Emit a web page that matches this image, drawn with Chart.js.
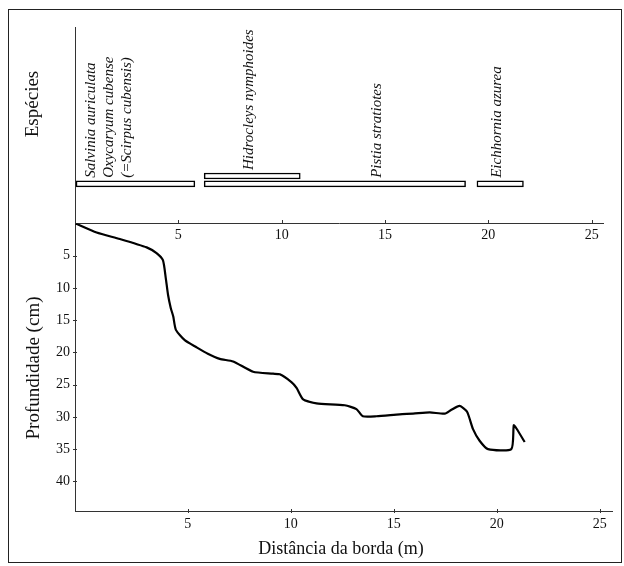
<!DOCTYPE html>
<html>
<head>
<meta charset="utf-8">
<script src="https://cdn.jsdelivr.net/npm/chart.js@4.4.0/dist/chart.umd.min.js"></script>
<style>
  html, body { margin: 0; padding: 0; background: #fff; }
  #wrap { position: relative; width: 624px; height: 566px; overflow: hidden; }
  #frame { position: absolute; left: 8px; top: 9px; width: 612px; height: 552px; border: 1.5px solid #222; }
  canvas { position: absolute; left: 0; top: 0; }
</style>
</head>
<body>
<div id="wrap">
  <div id="frame"></div>
  <canvas id="species" width="624" height="566"></canvas>
  <canvas id="profile" width="624" height="566"></canvas>
</div>
<script>
// species bands along the transect (m)
const speciesNames = [
  ['Salvinia auriculata', 'Oxycaryum cubense', '(=Scirpus cubensis)'],
  ['Hidrocleys nymphoides'],
  ['Pistia stratiotes'],
  ['Eichhornia azurea']
];
const speciesFrom = [0.05, 6.25, 6.25, 19.45];
const speciesTo = [5.8, 10.9, 18.9, 21.7];
const speciesRow = [0, 1, 0, 0];

// depth profile
const distance = [-0.45, 0.57, 1.7, 3.0, 3.48, 3.79, 3.93, 4.04, 4.17, 4.29, 4.42, 4.85, 5.42, 5.97,
  6.55, 7.2, 8.17, 9.14, 9.47, 10.03, 10.28, 10.6, 11.25, 12.62, 13.19, 13.5, 14.16, 15.29,
  15.94, 16.75, 17.48, 17.8, 18.2, 18.56, 18.85, 19.17, 19.58, 20.71, 20.83, 20.96, 21.36];
const depth = [0, 1.4, 2.4, 3.7, 4.6, 5.7, 8.5, 11.1, 13.1, 14.4, 16.5, 18.1, 19.2, 20.2,
  21.0, 21.4, 23.0, 23.3, 23.4, 24.6, 25.5, 27.3, 27.9, 28.2, 28.8, 29.9, 29.9, 29.6,
  29.5, 29.3, 29.5, 28.9, 28.3, 29.2, 31.9, 33.7, 35.0, 35.0, 31.3, 31.8, 33.9];

const distanceTicks = [5, 10, 15, 20, 25];
const depthTicks = [5, 10, 15, 20, 25, 30, 35, 40];

const serif = '"Liberation Serif", "DejaVu Serif", serif';
const ink = '#111';
const rowY = r => 2 + 0.4 * r;

const crossTicks = {
  id: 'crossTicks',
  afterDraw(chart, args, opts) {
    const ctx = chart.ctx;
    const area = chart.chartArea;
    ctx.save();
    ctx.strokeStyle = '#333';
    ctx.lineWidth = 1;
    opts.axes.forEach(a => {
      const s = chart.scales[a.id];
      s.ticks.forEach(t => {
        const p = Math.round(s.getPixelForValue(t.value)) + 0.5;
        ctx.beginPath();
        if (s.isHorizontal()) {
          ctx.moveTo(p, area.bottom - a.up);
          ctx.lineTo(p, area.bottom + a.down);
        } else {
          ctx.moveTo(area.left - a.down, p);
          ctx.lineTo(area.left + a.up, p);
        }
        ctx.stroke();
      });
    });
    ctx.restore();
  }
};

const speciesLabels = {
  id: 'speciesLabels',
  afterDatasetsDraw(chart, args, opts) {
    const { ctx, scales: { x, y } } = chart;
    ctx.save();
    ctx.font = 'italic 15px ' + serif;
    ctx.fillStyle = ink;
    ctx.textAlign = 'left';
    ctx.textBaseline = 'middle';
    speciesNames.forEach((lines, i) => {
      const base = y.getPixelForValue(rowY(speciesRow[i])) - 3 - opts.gap;
      lines.forEach((txt, j) => {
        const px = x.getPixelForValue(opts.at[i]) + j * opts.lineHeight;
        ctx.save();
        ctx.translate(px, base);
        ctx.rotate(-Math.PI / 2);
        ctx.fillText(txt, 0, 0);
        ctx.restore();
      });
    });
    ctx.restore();
  }
};

const axisTitles = {
  id: 'axisTitles',
  afterDraw(chart, args, opts) {
    const ctx = chart.ctx;
    ctx.save();
    ctx.fillStyle = ink;
    ctx.textAlign = 'center';
    ctx.textBaseline = 'middle';
    opts.items.forEach(it => {
      ctx.save();
      ctx.font = it.size + 'px ' + serif;
      ctx.translate(it.x, it.y);
      if (it.rotate) ctx.rotate(-Math.PI / 2);
      ctx.fillText(it.text, 0, 0);
      ctx.restore();
    });
    ctx.restore();
  }
};

const tickFont = { family: serif, size: 14 };

new Chart(document.getElementById('species'), {
  type: 'bar',
  data: {
    datasets: [{
      data: speciesFrom.map((f, i) => ({ x: [f, speciesTo[i]], y: rowY(speciesRow[i]) })),
      backgroundColor: '#fff',
      borderColor: '#000',
      borderWidth: 1.5,
      borderSkipped: false,
      barThickness: 6
    }]
  },
  options: {
    indexAxis: 'y',
    responsive: false,
    animation: false,
    layout: { padding: { left: 35, top: 27, right: 21, bottom: 323 } },
    plugins: {
      legend: { display: false },
      tooltip: { enabled: false },
      speciesLabels: { at: [0.77, 8.42, 14.62, 20.43], lineHeight: 18, gap: 3 },
      crossTicks: { axes: [{ id: 'x', up: 3, down: 0 }] },
      axisTitles: { items: [{ text: 'Espécies', x: 33, y: 104, size: 19, rotate: true }] }
    },
    scales: {
      x: {
        type: 'linear', min: 0, max: 25.55,
        afterBuildTicks: s => { s.ticks = distanceTicks.map(v => ({ value: v })); },
        afterFit: s => { s.height = 20; },
        grid: { display: false, drawTicks: false },
        border: { color: '#333', width: 1 },
        ticks: { font: tickFont, color: ink, padding: 4, maxRotation: 0, autoSkip: false }
      },
      y: {
        type: 'linear', min: 0, max: 10, offset: false,
        afterFit: s => { s.width = 40; },
        grid: { display: false, drawTicks: false },
        border: { color: '#333', width: 1 },
        ticks: { display: false }
      }
    }
  },
  plugins: [speciesLabels, crossTicks, axisTitles]
});

new Chart(document.getElementById('profile'), {
  type: 'line',
  data: {
    datasets: [{
      data: distance.map((d, i) => ({ x: d, y: depth[i] })),
      borderColor: '#000',
      borderWidth: 2.2,
      pointRadius: 0,
      tension: 0.2,
      fill: false
    }]
  },
  options: {
    responsive: false,
    animation: false,
    layout: { padding: { left: 35, top: 223.5, right: 12, bottom: 25 } },
    plugins: {
      legend: { display: false },
      tooltip: { enabled: false },
      crossTicks: { axes: [{ id: 'x', up: 2, down: 2 }, { id: 'y', up: 2, down: 2 }] },
      axisTitles: {
        items: [
          { text: 'Profundidade (cm)', x: 34, y: 368, size: 19, rotate: true },
          { text: 'Distância da borda (m)', x: 341, y: 549, size: 18 }
        ]
      }
    },
    scales: {
      x: {
        type: 'linear', min: -0.48, max: 25.6,
        afterBuildTicks: s => { s.ticks = distanceTicks.map(v => ({ value: v })); },
        afterFit: s => { s.height = 30; },
        grid: { display: false, drawTicks: false },
        border: { color: '#333', width: 1 },
        ticks: { font: tickFont, color: ink, padding: 5, maxRotation: 0, autoSkip: false }
      },
      y: {
        type: 'linear', reverse: true, min: 0, max: 44.6,
        afterBuildTicks: s => { s.ticks = depthTicks.map(v => ({ value: v })); },
        afterFit: s => { s.width = 40; },
        grid: { display: false, drawTicks: false },
        border: { color: '#333', width: 1 },
        ticks: { font: tickFont, color: ink, padding: 5, autoSkip: false }
      }
    }
  },
  plugins: [crossTicks, axisTitles]
});
</script>
</body>
</html>
